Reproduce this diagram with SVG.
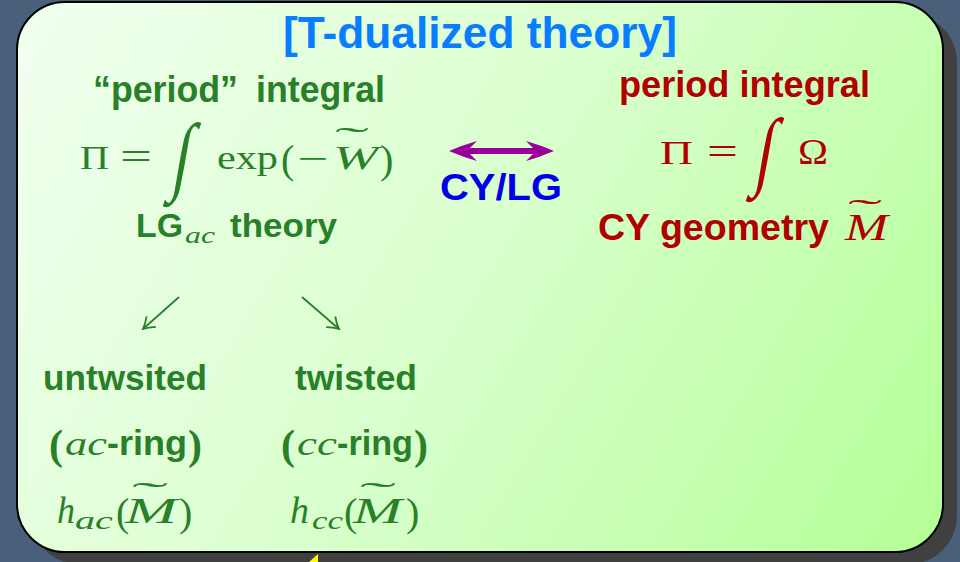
<svg xmlns="http://www.w3.org/2000/svg" width="960" height="562" viewBox="0 0 960 562">
<defs>
<linearGradient id="bg" gradientUnits="userSpaceOnUse" x1="17" y1="2" x2="943" y2="552">
<stop offset="0" stop-color="#f2fff0"/>
<stop offset="0.5" stop-color="#d8ffcc"/>
<stop offset="1" stop-color="#b4ff96"/>
</linearGradient>
<marker id="vhead" viewBox="0 0 16 16" refX="14" refY="8" markerWidth="16" markerHeight="16" markerUnits="userSpaceOnUse" orient="auto">
<path d="M3,1 Q9,6 14,8 Q9,10 3,15" fill="none" stroke="#288028" stroke-width="1.8"/>
</marker>
<style>
.s{font-family:"Liberation Sans","DejaVu Sans",sans-serif;font-weight:bold}
.m{font-family:"Liberation Serif","DejaVu Serif",serif}
.i{font-style:italic}
.b{font-weight:bold}
.g{fill:#288028}
.r{fill:#b00000}
</style>
</defs>
<rect width="960" height="562" fill="#4a607a"/>
<rect x="31" y="14" width="926" height="550" rx="48" fill="#404040"/>
<rect x="17" y="2" width="926" height="550" rx="48" fill="url(#bg)" stroke="#000" stroke-width="2"/>

<g id="title">
<text class="s" x="283" y="48" font-size="44" fill="#0a7cff" textLength="394" lengthAdjust="spacingAndGlyphs">[T-dualized theory]</text>
</g>

<g id="lg-theory" class="g">
<text class="s" x="93" y="102" font-size="37" textLength="145" lengthAdjust="spacingAndGlyphs">“period”</text>
<text class="s" x="256" y="102" font-size="37" textLength="129" lengthAdjust="spacingAndGlyphs">integral</text>
<text class="m" x="80" y="169" font-size="34" textLength="29" lengthAdjust="spacingAndGlyphs">Π</text>
<text class="m" x="120" y="170" font-size="40" textLength="32" lengthAdjust="spacingAndGlyphs">=</text>
<text class="m" x="0" y="0" font-size="60" transform="translate(170,184) skewX(-10) scale(1.05,1.45)">∫</text>
<text class="m" x="217" y="169" font-size="33" textLength="61" lengthAdjust="spacingAndGlyphs">exp</text>
<text class="m" x="281" y="173" font-size="40">(</text>
<text class="m" x="297" y="170" font-size="34" textLength="31" lengthAdjust="spacingAndGlyphs">−</text>
<text class="m i" x="333" y="169" font-size="33" textLength="45" lengthAdjust="spacingAndGlyphs">W</text>
<text class="m" x="0" y="0" font-size="32" transform="translate(335,149) scale(3.2,1)">˜</text>
<text class="m" x="380" y="173" font-size="40">)</text>
<text class="s" x="136" y="237" font-size="33" textLength="47" lengthAdjust="spacingAndGlyphs">LG</text>
<text class="m i" x="185" y="243" font-size="24" textLength="30" lengthAdjust="spacingAndGlyphs">ac</text>
<text class="s" x="230" y="237" font-size="33" textLength="107" lengthAdjust="spacingAndGlyphs">theory</text>
</g>

<g id="cy-geometry" class="r">
<text class="s" x="619" y="97" font-size="36" textLength="251" lengthAdjust="spacingAndGlyphs">period integral</text>
<text class="m" x="660" y="164" font-size="34" textLength="33" lengthAdjust="spacingAndGlyphs">Π</text>
<text class="m" x="707" y="165" font-size="40" textLength="31" lengthAdjust="spacingAndGlyphs">=</text>
<text class="m" x="0" y="0" font-size="60" transform="translate(753,179) skewX(-10) scale(1.05,1.45)">∫</text>
<text class="m" x="798" y="164" font-size="35" textLength="30" lengthAdjust="spacingAndGlyphs">Ω</text>
<text class="s" x="598" y="240" font-size="37" textLength="231" lengthAdjust="spacingAndGlyphs">CY geometry</text>
<text class="m i" x="845" y="240" font-size="37" textLength="43" lengthAdjust="spacingAndGlyphs">M</text>
<text class="m" x="0" y="0" font-size="32" transform="translate(848,221) scale(3.2,1)">˜</text>
</g>

<g id="cy-lg">
<text class="s" x="440" y="200" font-size="36" fill="#0000e6" textLength="122" lengthAdjust="spacingAndGlyphs">CY/LG</text>
</g>

<g id="untwisted" class="g">
<text class="s" x="43" y="390" font-size="35" textLength="164" lengthAdjust="spacingAndGlyphs">untwsited</text>
<text class="m b" x="49" y="459" font-size="42">(</text>
<text class="m i" x="65" y="455" font-size="34" textLength="42" lengthAdjust="spacingAndGlyphs">ac</text>
<text class="s" x="107" y="455" font-size="35" textLength="80" lengthAdjust="spacingAndGlyphs">-ring</text>
<text class="m b" x="188" y="459" font-size="42">)</text>
<text class="m i" x="57" y="523" font-size="37" textLength="18" lengthAdjust="spacingAndGlyphs">h</text>
<text class="m i" x="75" y="529" font-size="26" textLength="38" lengthAdjust="spacingAndGlyphs">ac</text>
<text class="m" x="116" y="526" font-size="40">(</text>
<text class="m i" x="125" y="523" font-size="36" textLength="52" lengthAdjust="spacingAndGlyphs">M</text>
<text class="m" x="0" y="0" font-size="32" transform="translate(132,504) scale(3.4,1)">˜</text>
<text class="m" x="179" y="526" font-size="40">)</text>
</g>

<g id="twisted" class="g">
<text class="s" x="295" y="390" font-size="35" textLength="122" lengthAdjust="spacingAndGlyphs">twisted</text>
<text class="m b" x="281" y="459" font-size="42">(</text>
<text class="m i" x="297" y="455" font-size="34" textLength="40" lengthAdjust="spacingAndGlyphs">cc</text>
<text class="s" x="337" y="455" font-size="35" textLength="76" lengthAdjust="spacingAndGlyphs">-ring</text>
<text class="m b" x="414" y="459" font-size="42">)</text>
<text class="m i" x="290" y="523" font-size="37" textLength="19" lengthAdjust="spacingAndGlyphs">h</text>
<text class="m i" x="312" y="529" font-size="26" textLength="31" lengthAdjust="spacingAndGlyphs">cc</text>
<text class="m" x="344" y="526" font-size="40">(</text>
<text class="m i" x="353" y="523" font-size="36" textLength="49" lengthAdjust="spacingAndGlyphs">M</text>
<text class="m" x="0" y="0" font-size="32" transform="translate(360,504) scale(3.4,1)">˜</text>
<text class="m" x="406" y="526" font-size="40">)</text>
</g>

<g id="connectors">
<path d="M449,151 Q463,145 477,141 Q472,146 470,148 L533,148 Q531,146 526,141 Q540,145 554,151 Q540,157 526,161 Q531,156 533,154 L470,154 Q472,156 477,161 Q463,157 449,151 Z" fill="#990099"/>
<line x1="179" y1="297" x2="143" y2="329" stroke="#288028" stroke-width="1.8" marker-end="url(#vhead)"/>
<line x1="302" y1="297" x2="339" y2="329" stroke="#288028" stroke-width="1.8" marker-end="url(#vhead)"/>
</g>

<polygon points="309,562 318,554 318,562" fill="#ffff00"/>
</svg>
